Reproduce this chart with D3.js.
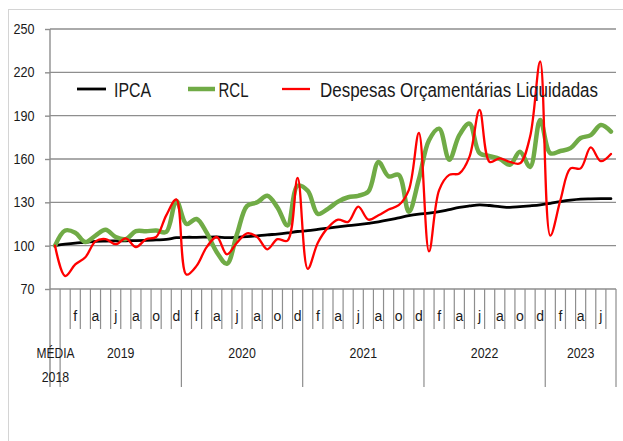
<!DOCTYPE html>
<html>
<head>
<meta charset="utf-8">
<script src="https://cdn.jsdelivr.net/npm/d3@7/dist/d3.min.js"></script>
<style>
  html, body { margin: 0; padding: 0; background: #fff; }
  svg { display: block; }
  text { font-family: "Liberation Sans Narrow", "Liberation Sans", Arial, sans-serif; fill: #1a1a1a; }
</style>
</head>
<body>
<svg id="chart" width="623" height="441"></svg>
<script>
// ---------- DATA ----------
const groupLabels = ["MÉDIA 2018", "2019", "2020", "2021", "2022", "2023"];
const groupSizes  = [1, 12, 12, 12, 12, 7];
const monthLetters = ["j", "f", "m", "a", "m", "j", "j", "a", "s", "o", "n", "d"];
const yTicks = [70, 100, 130, 160, 190, 220, 250];
const seriesNames = ["IPCA", "RCL", "Despesas Orçamentárias Liquidadas"];

const ipca = [100,
  101, 101.8, 102.3, 103, 103.2, 103.3, 103.4, 103.5, 103.7, 104, 104.3, 105.5,
  105.8, 105.8, 105.9, 106, 105.6, 105.8, 106.2, 106.8, 107.5, 108, 108.8, 109.8,
  110.4, 111.3, 112.2, 113, 113.8, 114.6, 115.5, 116.5, 117.8, 119.3, 120.8, 121.8,
  122.5, 123.5, 125, 126.5, 127.5, 128.3, 127.8, 127, 126.5, 127, 127.6, 128.3,
  129.3, 130.5, 131.5, 132.2, 132.4, 132.5, 132.5];

const rcl = [100,
  110.5, 109, 102.5, 107, 111, 106, 104.5, 110, 110, 110.5, 109.5, 131,
  115, 118.5, 109, 95.5, 87.5, 108, 127.5, 130, 134.5, 126.5, 114, 141.5,
  138, 122, 125.5, 130.5, 133.5, 134.5, 137.5, 158, 148, 149, 123.5, 146,
  173, 181, 159.5, 176.5, 184.5, 164, 162, 160, 156, 165, 154.5, 187,
  164, 165.5, 167.5, 174.5, 176.5, 183.5, 179];

const despesas = [100,
  79, 87, 92, 103, 104.5, 101, 105, 99, 104.5, 106, 121, 132,
  80, 86, 99, 106, 94, 102, 108.5, 106, 97.5, 104.5, 103.5, 147,
  84, 102, 112.5, 118, 116.5, 127, 118, 121, 125, 128, 138.5, 178,
  96, 138.5, 149, 150, 161.5, 194, 158, 160.5, 158, 157, 175.5, 227.5,
  107, 131.5, 153.5, 153.5, 168, 158.5, 163.5];

// category list built from groups (index-based)
const categories = [];
groupLabels.forEach((g, gi) => {
  for (let k = 0; k < groupSizes[gi]; k++) categories.push({ group: gi, month: gi === 0 ? -1 : k });
});

// ---------- LAYOUT ----------
const svg = d3.select("#chart");
const X0 = 50, X1 = 616, Y0 = 29, Y1 = 289, YB = 387, YT = 329;
const gridColor = "#8e8e8e";

// chart area border (left/top visible)
svg.append("rect").attr("x", 8.5).attr("y", 9.5).attr("width", 700).attr("height", 500)
  .attr("fill", "none").attr("stroke", "#d4d4d4").attr("stroke-width", 1);

const x = d3.scaleBand().domain(d3.range(categories.length)).range([X0, X1]).paddingInner(0).paddingOuter(0);
const y = d3.scaleLinear().domain([70, 250]).range([Y1, Y0]);

// gridlines
svg.append("g").selectAll("line").data(yTicks).join("line")
  .attr("x1", X0).attr("x2", X1)
  .attr("y1", d => y(d)).attr("y2", d => y(d))
  .attr("stroke", gridColor).attr("stroke-width", 1.4);

// y axis
const yAxis = svg.append("g").attr("transform", `translate(${X0},0)`)
  .call(d3.axisLeft(y).tickValues(yTicks).tickSizeInner(5).tickSizeOuter(0).tickPadding(10.5));
yAxis.select(".domain").remove();
yAxis.selectAll(".tick line").attr("stroke", gridColor).attr("stroke-width", 1.4);
yAxis.selectAll(".tick text").style("font-family", '"Liberation Sans", Arial, sans-serif')
  .style("font-size", "14px").attr("fill", "#1a1a1a").attr("textLength", 21).attr("lengthAdjust", "spacingAndGlyphs");
yAxis.selectAll(".tick text").filter(d => d < 100).attr("textLength", 14);

// vertical axis line
svg.append("line").attr("x1", X0).attr("x2", X0).attr("y1", Y0).attr("y2", YB)
  .attr("stroke", gridColor).attr("stroke-width", 1.4);

// category tick marks
const groupStarts = [];
let acc = 0;
groupSizes.forEach(n => { groupStarts.push(acc); acc += n; });
const boundaries = d3.range(categories.length + 1);
svg.append("g").selectAll("line").data(boundaries.slice(1)).join("line")
  .attr("x1", i => i < categories.length ? x(i) : X1)
  .attr("x2", i => i < categories.length ? x(i) : X1)
  .attr("y1", Y1)
  .attr("y2", i => (groupStarts.includes(i) || i === categories.length) ? YB : YT)
  .attr("stroke", gridColor).attr("stroke-width", 1.2);

// month letters via axis
const xAxis = svg.append("g").attr("transform", `translate(0,${Y1})`)
  .call(d3.axisBottom(x).tickSize(0).tickPadding(22)
    .tickFormat(i => {
      const c = categories[i];
      return (c.month >= 0 && c.month % 2 === 1) ? monthLetters[c.month] : "";
    }));
xAxis.select(".domain").remove();
xAxis.selectAll(".tick text").style("font-size", "14px").attr("fill", "#1a1a1a");

// group (year) labels
groupLabels.forEach((g, gi) => {
  const s = groupStarts[gi], e = s + groupSizes[gi] - 1;
  const cx = (x(s) + x(e) + x.bandwidth()) / 2;
  if (gi === 0) {
    svg.append("text").attr("x", 55.5).attr("y", 358).attr("text-anchor", "middle")
      .style("font-size", "15px").attr("textLength", 38).attr("lengthAdjust", "spacingAndGlyphs").text("MÉDIA");
    svg.append("text").attr("x", 55.5).attr("y", 381.5).attr("text-anchor", "middle")
      .style("font-size", "15px").attr("textLength", 27.5).attr("lengthAdjust", "spacingAndGlyphs").text("2018");
  } else {
    svg.append("text").attr("x", cx).attr("y", 358).attr("text-anchor", "middle")
      .style("font-size", "15px").attr("textLength", 27.5).attr("lengthAdjust", "spacingAndGlyphs").text(g);
  }
});

// ---------- SERIES ----------
const line = d3.line()
  .x((d, i) => x(i) + x.bandwidth() / 2)
  .y(d => y(d))
  .curve(d3.curveCatmullRom.alpha(0.5));

const series = [
  { name: seriesNames[0], values: ipca, color: "#000000", width: 2.8 },
  { name: seriesNames[1], values: rcl, color: "#70ab46", width: 4.5 },
  { name: seriesNames[2], values: despesas, color: "#ff0000", width: 2.3 }
];
series.forEach(s => {
  svg.append("path").datum(s.values).attr("d", line)
    .attr("fill", "none").attr("stroke", s.color).attr("stroke-width", s.width)
    .attr("stroke-linejoin", "round").attr("stroke-linecap", "round");
});

// ---------- LEGEND ----------
const legendItems = [
  { x1: 77, x2: 106, tx: 114, tw: 37 },
  { x1: 188, x2: 215, tx: 218.5, tw: 30 },
  { x1: 282, x2: 310, tx: 320, tw: 278 }
];
legendItems.forEach((li, k) => {
  svg.append("line").attr("x1", li.x1).attr("x2", li.x2).attr("y1", 89).attr("y2", 89)
    .attr("stroke", series[k].color).attr("stroke-width", series[k].width);
  svg.append("text").attr("x", li.tx).attr("y", 96.5)
    .style("font-size", "20px").attr("textLength", li.tw).attr("lengthAdjust", "spacingAndGlyphs")
    .text(series[k].name);
});
</script>
</body>
</html>
